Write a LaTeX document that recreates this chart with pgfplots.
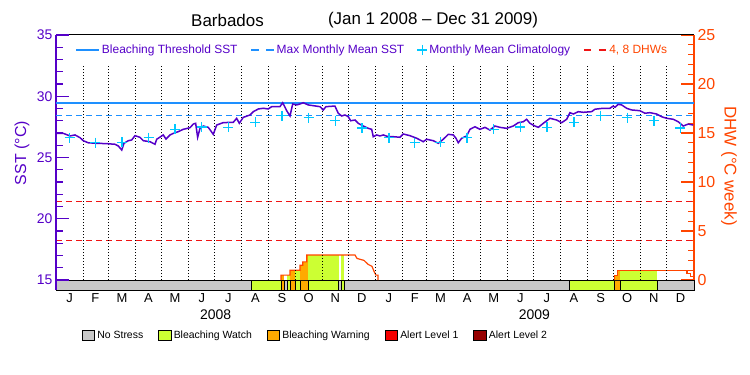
\documentclass[border=0pt]{standalone}
\usepackage{fontspec}
\setmainfont{Liberation Sans}
\usepackage{pgfplots}
\pgfplotsset{compat=1.18}
\definecolor{sstp}{RGB}{85,0,200}
\definecolor{thrb}{RGB}{30,144,255}
\definecolor{climc}{RGB}{0,200,255}
\definecolor{dhwo}{RGB}{255,69,0}
\definecolor{dashr}{RGB}{240,20,20}
\definecolor{nsg}{RGB}{200,200,200}
\definecolor{bw}{RGB}{204,255,51}
\definecolor{bwarn}{RGB}{255,170,0}
\definecolor{alone}{RGB}{245,0,0}
\definecolor{altwo}{RGB}{150,0,0}
\pgfplotsset{
  linelegend/.style={legend image code/.code={\draw[##1] (0bp,0bp) -- (23bp,0bp);}},
  dashlegend/.style={legend image code/.code={\draw[##1, dash pattern=on 7.5bp off 7.5bp] (0bp,0bp) -- (23bp,0bp);}},
  boxlegend/.style={legend image code/.code={\draw[##1] (0bp,-5.3bp) rectangle (12.6bp,5.3bp);}},
}
\newcommand{\seg}[3]{\addplot[fill=#3, draw=black, line width=0.9bp, forget plot] coordinates {(#1,-1.02) (#2,-1.02) (#2,0) (#1,0)} -- cycle;}
\newcommand{\fs}[1]{\fontsize{#1}{#1}\selectfont}
\begin{document}
\begin{tikzpicture}
\useasboundingbox (0,0) rectangle (750bp,375bp);
% ---------------- DHW axis (right) ----------------
\begin{axis}[
  at={(56bp,85bp)}, anchor=south west,
  width=638bp, height=255bp, scale only axis,
  xmin=0, xmax=731, ymin=-1.02, ymax=25,
  clip=false,
  axis y line*=right,
  x axis line style={black, line width=1bp},
  y axis line style={dhwo, line width=1.2bp},
  xtick={15.5,45,75.5,106,136.5,167,197.5,228.5,259,289.5,320,350.5,381.5,411,440.5,471,501.5,532,562.5,593.5,624,654.5,685,715.5},
  xticklabels={J,F,M,A,M,J,J,A,S,O,N,D,J,F,M,A,M,J,J,A,S,O,N,D},
  x tick style={draw=none},
  xticklabel style={font=\fs{13}, black},
  ytick={0,5,10,15,20,25},
  minor y tick num=4,
  tick align=inside,
  major tick length=13bp, minor tick length=6bp,
  y tick style={dhwo, line width=1.2bp},
  /pgf/number format/assume math mode=true,
  yticklabel style={dhwo, font=\fs{16}},
  boxlegend,
  legend style={at={(axis cs:29.4,-5.66)}, anchor=west, draw=none, fill=none,
    legend columns=5, font=\fs{10.5}, inner sep=0pt,
    /tikz/every even column/.append style={column sep=13bp}},
]
% stress strip
\seg{0}{224.2}{nsg}
\seg{224.2}{257.8}{bw}
\seg{257.8}{261.2}{bwarn}
\seg{261.2}{264.7}{nsg}
\seg{264.7}{268.1}{bw}
\seg{268.1}{273.8}{bwarn}
\seg{273.8}{279.6}{bw}
\seg{279.6}{289.1}{bwarn}
\seg{289.1}{323.7}{bw}
\seg{323.7}{326.5}{nsg}
\seg{326.5}{330.5}{bw}
\seg{330.5}{588.1}{nsg}
\seg{588.1}{639.6}{bw}
\seg{639.6}{646.2}{bwarn}
\seg{646.2}{688.9}{bw}
\seg{688.9}{731}{nsg}
% DHW fills coloured by stress level
\addplot[fill=bwarn, draw=none, forget plot] coordinates {(257.8,0)(257.8,0.5)(261.2,0.5)(261.2,0)} -- cycle;
\addplot[fill=bw, draw=none, forget plot] coordinates {(264.7,0)(264.7,0.5)(268.1,0.5)(268.1,0)} -- cycle;
\addplot[fill=bwarn, draw=none, forget plot] coordinates {(268.1,0)(268.1,1.0)(273.8,1.0)(273.8,0)} -- cycle;
\addplot[fill=bw, draw=none, forget plot] coordinates {(273.8,0)(273.8,1.0)(279.6,1.0)(279.6,0)} -- cycle;
\addplot[fill=bwarn, draw=none, forget plot] coordinates {(279.6,0)(279.6,1.5)(282.6,1.5)(282.6,1.85)(287.2,1.85)(287.2,2.55)(289.1,2.55)(289.1,0)} -- cycle;
\addplot[fill=bw, draw=none, forget plot] coordinates {(289.1,0)(289.1,2.55)(323.7,2.55)(323.7,0)} -- cycle;
\addplot[fill=bw, draw=none, forget plot] coordinates {(326.5,0)(326.5,2.55)(330.5,2.55)(330.5,0)} -- cycle;
\addplot[fill=bwarn, draw=none, forget plot] coordinates {(639.6,0)(639.6,0.5)(643.6,0.5)(643.6,1.0)(646.2,1.0)(646.2,0)} -- cycle;
\addplot[fill=bw, draw=none, forget plot] coordinates {(646.2,0)(646.2,1.0)(688.9,1.0)(688.9,0)} -- cycle;
% DHW outline
\addplot[dhwo, line width=1.2bp, forget plot] coordinates {(257.8,0)(257.8,0.5)(268.1,0.5)(268.1,1.0)(279.6,1.0)(279.6,1.5)(282.6,1.5)(282.6,1.85)(287.2,1.85)(287.2,2.55)(342.6,2.55)(344.9,2.2)(352.9,2.0)(357.5,1.6)(362,1.4)(364.3,0.9)(366.6,0.5)(368.9,0.5)(368.9,0)};
\addplot[dhwo, line width=1.2bp, forget plot] coordinates {(639.6,0)(639.6,0.5)(643.6,0.5)(643.6,1.0)(723,1.0)(723,0.65)(727,0.65)(727,0.35)(730.5,0.35)(730.5,0)};
% 4 and 8 DHW lines
\addplot[dashr, line width=1.1bp, dash pattern=on 6bp off 4bp, forget plot] coordinates {(0,4)(731,4)};
\addplot[dashr, line width=1.1bp, dash pattern=on 6bp off 4bp, forget plot] coordinates {(0,8)(731,8)};
% month boundaries
\addplot[ycomb, no markers, black, line width=1bp, dash pattern=on 1bp off 2bp, forget plot] coordinates {(31,22.04)(60,22.04)(91,22.04)(121,22.04)(152,22.04)(182,22.04)(213,22.04)(244,22.04)(274,22.04)(305,22.04)(335,22.04)(397,22.04)(425,22.04)(456,22.04)(486,22.04)(517,22.04)(547,22.04)(578,22.04)(609,22.04)(639,22.04)(670,22.04)(700,22.04)};
\addplot[ycomb, no markers, black, line width=1.6bp, dash pattern=on 1.5bp off 1.5bp, forget plot] coordinates {(366,22.04)};
% bottom legend
\addlegendimage{fill=nsg, draw=black, line width=0.9bp}
\addlegendentry{No Stress}
\addlegendimage{fill=bw, draw=black, line width=0.9bp}
\addlegendentry{Bleaching Watch}
\addlegendimage{fill=bwarn, draw=black, line width=0.9bp}
\addlegendentry{Bleaching Warning}
\addlegendimage{fill=alone, draw=black, line width=0.9bp}
\addlegendentry{Alert Level 1}
\addlegendimage{fill=altwo, draw=black, line width=0.9bp}
\addlegendentry{Alert Level 2}
% year labels
\node[font=\fs{14}] at (axis cs:183,-3.57) {2008};
\node[font=\fs{14}] at (axis cs:548,-3.57) {2009};
\node[font=\fs{17}, dhwo, rotate=-90] at (rel axis cs:1.0549,0.486) {DHW (°C week)};
\end{axis}
% ---------------- SST axis (left) ----------------
\begin{axis}[
  at={(56bp,85bp)}, anchor=south west,
  width=638bp, height=255bp, scale only axis,
  xmin=0, xmax=731, ymin=14.184, ymax=35,
  clip=false,
  axis x line=none,
  axis y line*=left,
  xtick=\empty,
  y axis line style={sstp, line width=1.2bp},
  ytick={15,20,25,30,35},
  minor y tick num=4,
  tick align=inside,
  major tick length=13bp, minor tick length=7bp,
  y tick style={sstp, line width=1.2bp},
  /pgf/number format/assume math mode=true,
  yticklabel style={sstp, font=\fs{14}},
  legend style={at={(axis cs:362.6,33.78)}, anchor=center, draw=none, fill=none,
    legend columns=4, font=\fs{12},
    /tikz/every even column/.append style={column sep=11bp}},
]
\addplot[thrb, line width=1.2bp, linelegend] coordinates {(0,29.45)(731,29.45)};
\addlegendentry{\textcolor{sstp}{Bleaching Threshold SST}}
\addplot[thrb, line width=1.2bp, dash pattern=on 6bp off 4bp, dashlegend] coordinates {(0,28.45)(731,28.45)};
\addlegendentry{\textcolor{sstp}{Max Monthly Mean SST}}
\addplot[only marks, climc, mark=+, mark size=5bp, mark options={line width=1.3bp}] coordinates {
(15.5,26.62)(45,26.21)(75.5,26.24)(106,26.62)(136.5,27.30)(167,27.50)(197.5,27.45)(228.5,27.87)(259,28.41)(289.5,28.25)(320,28.00)(350.5,27.40)
(381.5,26.62)(411,26.21)(440.5,26.24)(471,26.62)(501.5,27.30)(532,27.50)(562.5,27.45)(593.5,27.87)(624,28.41)(654.5,28.25)(685,28.00)(715.5,27.40)};
\addlegendentry{\textcolor{sstp}{Monthly Mean Climatology}}
\addlegendimage{dashr, line width=1.2bp, dashlegend}
\addlegendentry{\textcolor{dhwo}{4, 8 DHWs}}
% SST
\addplot[sstp, line width=1.5bp, forget plot] coordinates {
(0,26.97)(8.4,26.97)(16,26.76)(21.8,26.84)(27.5,26.62)(31.3,26.37)(37,26.2)(46.6,26.16)(58.1,26.13)(67.6,26.08)(71.4,25.94)(75.3,25.61)(77.9,26.16)(82.8,26.37)(86.7,26.43)(90.5,26.78)(96.2,26.65)(100,26.37)(107.7,26.29)(113.4,26.08)(115.4,26.49)(122.9,26.84)(126,26.51)(130.6,26.84)(134.4,26.97)(140.1,27.11)(145.8,27.30)(153.5,27.43)(157.3,27.73)(160,27.79)(162.3,26.65)(165,27.38)(168.8,27.57)(174.5,27.46)(180.2,26.89)(184.1,27.65)(191.7,27.85)(203.1,27.87)(207,28.20)(210,27.79)(214.6,28.28)(222.3,28.47)(226,28.74)(231.8,28.96)(237.5,29.02)(243.2,28.96)(247.1,29.15)(256.6,29.15)(259.7,29.47)(262.4,29.10)(264.3,28.82)(268.1,28.39)(271.2,29.37)(275.8,29.29)(279.6,29.37)(283.3,29.47)(289.1,29.29)(294.8,29.23)(302.5,29.15)(306.2,28.88)(309.3,29.15)(319.6,29.20)(323.4,28.61)(327.3,28.39)(331.1,28.47)(334.9,28.33)(337.6,28.00)(342.6,28.06)(346.3,27.79)(352.1,27.57)(357.8,27.38)(361.7,27.30)(363.5,26.70)(367.4,26.84)(371.2,26.76)(375,26.84)(380.7,26.70)(386.4,26.70)(394.1,26.65)(397.9,26.92)(405.6,26.78)(413.3,26.57)(420.8,26.29)(424.7,26.49)(432.3,26.37)(438,26.16)(443.7,26.49)(449.5,26.89)(455.2,26.84)(458.3,26.57)(460.9,26.20)(464.8,26.57)(470.5,26.76)(474.3,27.30)(480,27.51)(485.8,27.30)(491.5,27.46)(497.2,27.24)(502.9,27.57)(508.7,27.46)(516.3,27.38)(523.9,27.57)(529.6,27.84)(535.4,27.92)(539.2,28.12)(543,27.79)(548.8,27.57)(552.6,27.46)(558.3,27.79)(566,28.20)(573.6,28.06)(579.4,27.84)(585.1,28.12)(588.9,28.66)(592.7,28.55)(598.4,28.74)(604.1,28.69)(613.7,28.74)(617.5,28.94)(627,29.02)(634.7,29.02)(638.5,29.20)(640.4,29.10)(644.2,29.34)(648.1,29.29)(653.8,29.02)(659.6,28.88)(669.1,28.82)(674.8,28.61)(680.5,28.66)(688.2,28.55)(693.9,28.33)(699.6,28.20)(707.2,28.12)(712.9,27.92)(718.7,27.57)(724.4,27.73)(730.1,27.65)};
% titles and axis label
\node[font=\fs{17}] at (rel axis cs:0.2688,1.0588) {Barbados};
\node[font=\fs{17}] at (rel axis cs:0.5909,1.0588) {(Jan 1 2008 -- Dec 31 2009)};
\node[font=\fs{16}, sstp, rotate=90] at (rel axis cs:-0.0533,0.537) {SST (°C)};
\end{axis}
\end{tikzpicture}
\end{document}
